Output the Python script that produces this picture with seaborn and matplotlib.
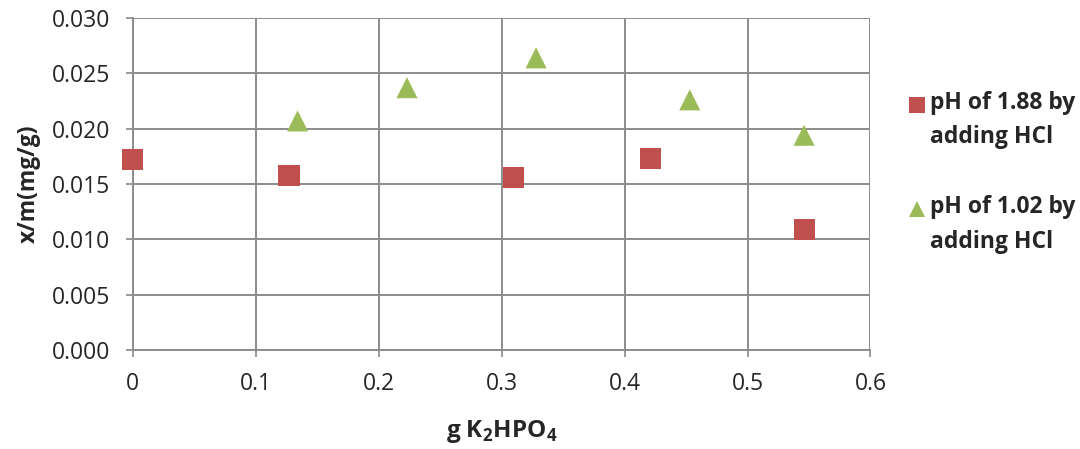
import matplotlib
matplotlib.use("Agg")
import matplotlib.pyplot as plt
import pandas as pd
import seaborn as sns

# data
x_188 = [0.0, 0.127, 0.310, 0.421, 0.546]
y_188 = [0.0172, 0.0158, 0.0156, 0.0173, 0.0109]
x_102 = [0.134, 0.223, 0.328, 0.453, 0.546]
y_102 = [0.0207, 0.0237, 0.0264, 0.0226, 0.0194]
labels = ["pH of 1.88 by\nadding HCl", "pH of 1.02 by\nadding HCl"]

df = pd.DataFrame({
    "x": x_188 + x_102,
    "y": y_188 + y_102,
    "serie": [labels[0]] * len(x_188) + [labels[1]] * len(x_102),
})

sns.set_style("whitegrid")
plt.rcParams["font.family"] = ["Open Sans", "DejaVu Sans"]

fig = plt.figure(figsize=(10.8, 4.49), dpi=100)
ax = fig.add_axes([0.123, 0.2205, 0.683, 0.7395])

sns.scatterplot(data=df, x="x", y="y", hue="serie", style="serie",
                palette=["#C0504D", "#9BBB59"], markers=["s", "^"],
                s=230, edgecolor="none", ax=ax, zorder=3, clip_on=False)

ax.set_xlim(0, 0.6)
ax.set_ylim(0, 0.03)
ax.set_xticks([0, 0.1, 0.2, 0.3, 0.4, 0.5, 0.6])
ax.set_xticklabels(["0", "0.1", "0.2", "0.3", "0.4", "0.5", "0.6"])
ax.set_yticks([0, 0.005, 0.01, 0.015, 0.02, 0.025, 0.03])
ax.set_yticklabels(["0.000", "0.005", "0.010", "0.015", "0.020", "0.025", "0.030"])
ax.tick_params(labelsize=16.5, length=5, color="#888888", width=1.2, direction="out",
               bottom=True, left=True)
ax.tick_params(axis="x", pad=11)
ax.tick_params(axis="y", pad=11)
ax.grid(True, color="#8c8c8c", linewidth=1.4)
for side in ["top", "right"]:
    ax.spines[side].set_visible(False)
for side in ["left", "bottom"]:
    ax.spines[side].set_color("#8c8c8c")
    ax.spines[side].set_linewidth(1.4)

ax.set_xlabel("g K$_\\mathregular{2}$HPO$_\\mathregular{4}$", fontsize=17.5, fontweight="bold", labelpad=16)
ax.set_ylabel("x/m(mg/g)", fontsize=16.5, fontweight="bold", labelpad=8)

leg = ax.legend(loc="upper left", bbox_to_anchor=(1.049, 0.78), frameon=False,
                fontsize=16.5, handletextpad=0.1, labelspacing=2.0, markerscale=0.78,
                borderaxespad=0, borderpad=0, handlelength=0.9)
for t in leg.get_texts():
    t.set_fontweight("bold")
    t.set_linespacing(1.58)
# put the marker next to the first line of each label
for h in leg.legend_handles:
    h.set_ydata([y + 12 for y in h.get_ydata()])

fig.savefig("out.png", dpi=100)
